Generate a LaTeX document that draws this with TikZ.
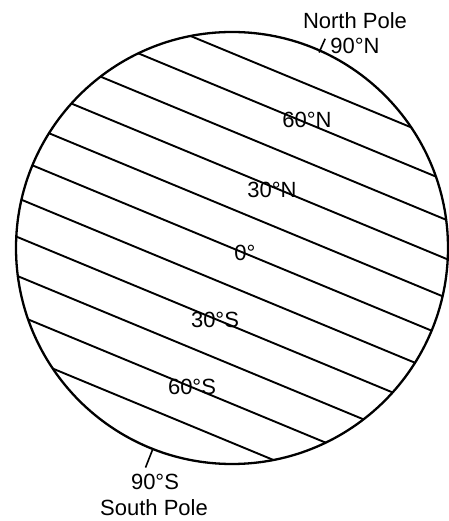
\documentclass[tikz,border=0pt]{standalone}
\usepackage{fontspec}
\setmainfont{Liberation Sans}
\usetikzlibrary{calc}
\begin{document}
\begin{tikzpicture}[x=1pt,y=1pt,
  lbl/.style={font=\fontsize{22}{25}\selectfont, inner sep=0pt},
  latline/.style={line width=1.9pt},
  globe/.style={line width=2.3pt},
  tick/.style={line width=1.6pt}]
\useasboundingbox (0,0) rectangle (448,521);
\coordinate (C) at (232,273);
\def\R{216}
\def\ax{67.5}
% globe outline
\draw[globe] (C) circle[radius=\R];
% parallels of latitude, evenly spaced across the tilted axis
\foreach \k in {-5,...,5}{
  \pgfmathsetmacro{\d}{36*\k}
  \pgfmathsetmacro{\q}{\k/6}
  \pgfmathsetmacro{\h}{\R*sqrt(1-\q*\q)}
  \draw[latline] ($(C)+(\ax:\d)+(\ax-90:-\h)$) -- ($(C)+(\ax:\d)+(\ax-90:\h)$);
}
% pole ticks
\draw[tick] ($(C)+(66:\R-2)$) coordinate (nt1) -- ($(C)+(66:\R+13)$) coordinate (nt2);
\draw[tick] ($(C)+(248.5:\R-1)$) coordinate (st1) -- ($(C)+(248.5:\R+20)$) coordinate (st2);
% labels
\node[lbl] (np) at (355,500) {North Pole};
\node[lbl] (n90) at (355,475) {90°N};
\node[lbl] (l60n) at (307,401) {60°N};
\node[lbl] (l30n) at (272,331) {30°N};
\node[lbl] (l0) at (245,268) {0°};
\node[lbl] (l30s) at (215,201) {30°S};
\node[lbl] (l60s) at (192,134) {60°S};
\node[lbl] (s90) at (155,39) {90°S};
\node[lbl] (sp) at (154,13) {South Pole};
\end{tikzpicture}
\end{document}
